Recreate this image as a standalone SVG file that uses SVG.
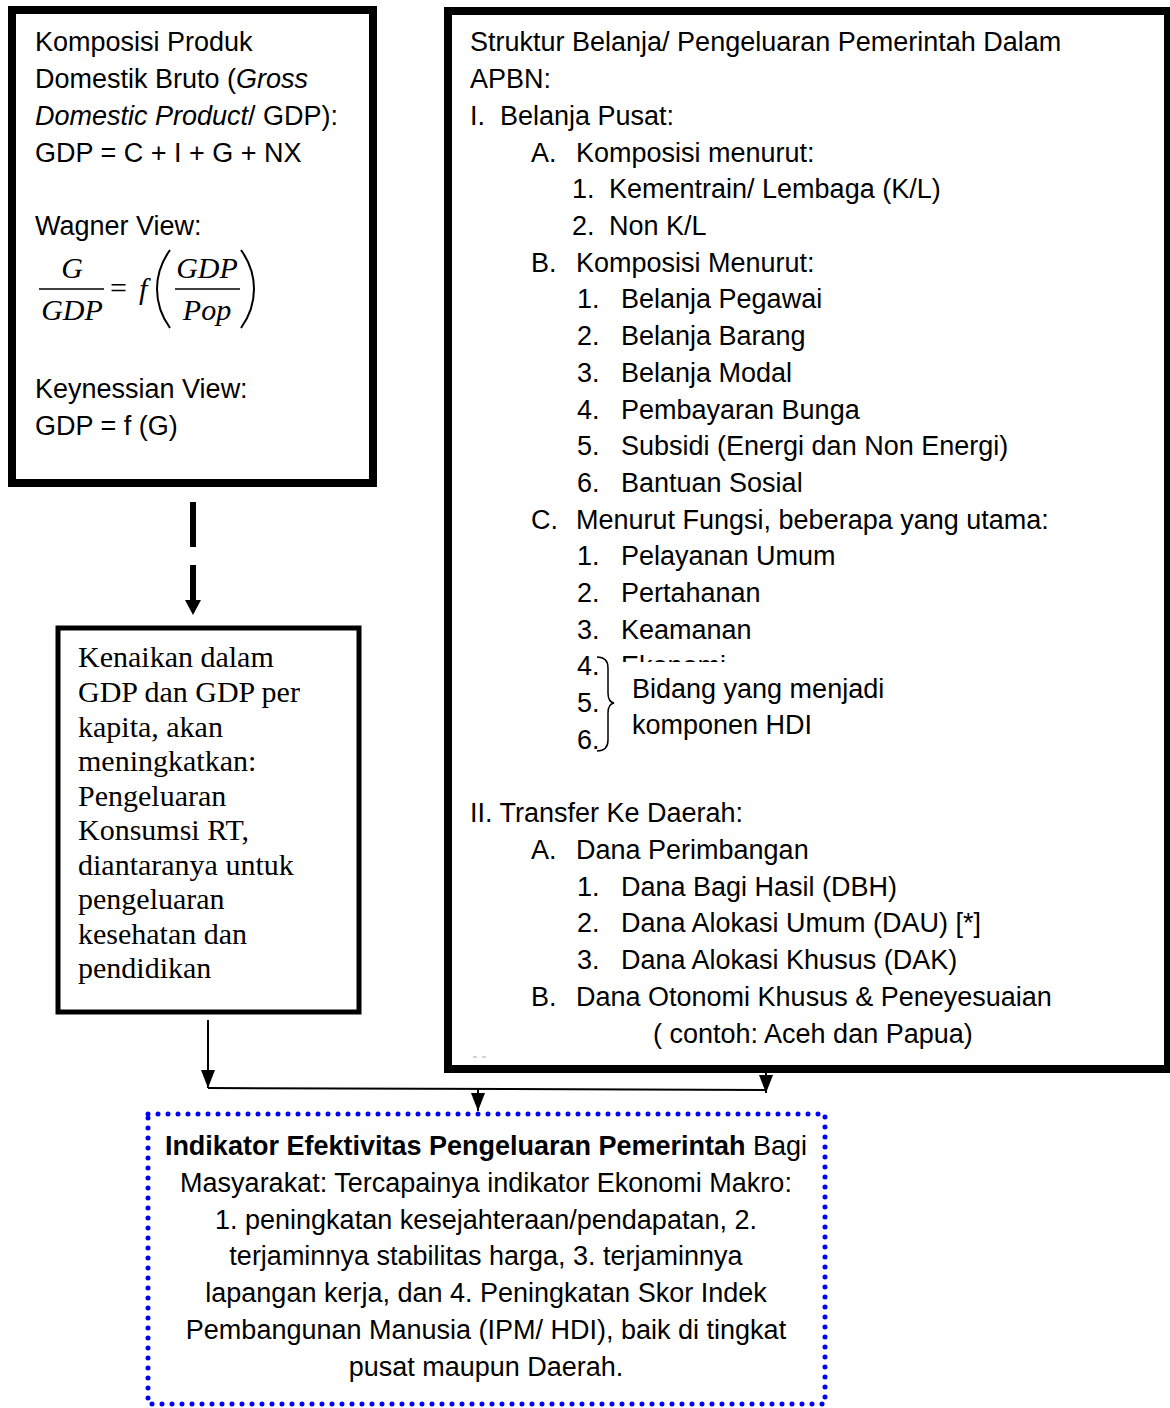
<svg xmlns="http://www.w3.org/2000/svg" width="1170" height="1408" viewBox="0 0 1170 1408">
<style>
.box{fill:#fff;stroke:#000}
.s{font-family:"Liberation Sans",Arial,sans-serif;font-size:27px;fill:#000}
.r{font-family:"Liberation Serif","Times New Roman",serif;font-size:30px;fill:#000}
.m{font-family:"Liberation Serif","Times New Roman",serif;font-size:30px;font-style:italic;fill:#000}
.c{text-anchor:middle}
.ln{stroke:#000;stroke-width:2;fill:none}
</style>
<defs>
<marker id="ah" markerWidth="18" markerHeight="14" refX="18" refY="7" orient="auto" markerUnits="userSpaceOnUse" viewBox="0 0 18 14">
<path d="M0,0 L18,7 L0,14 Z" fill="#000"/>
</marker>
<clipPath id="ekClip"><rect x="600" y="640" width="200" height="22"/></clipPath>
</defs>

<g id="node-gdp">
<rect class="box" x="12" y="10" width="361" height="473" stroke-width="8"/>
<text class="s" x="35" y="51">Komposisi Produk</text>
<text class="s" x="35" y="88">Domestik Bruto (<tspan font-style="italic">Gross</tspan></text>
<text class="s" x="35" y="125"><tspan font-style="italic">Domestic Product</tspan>/ GDP):</text>
<text class="s" x="35" y="162">GDP = C + I + G + NX</text>
<text class="s" x="35" y="235">Wagner View:</text>
<text class="m c" x="72" y="278">G</text>
<line x1="39" y1="289" x2="104" y2="289" stroke="#000" stroke-width="1.5"/>
<text class="m c" x="72" y="320">GDP</text>
<text class="r" x="110" y="298">=</text>
<text class="m" x="139" y="299">f</text>
<path d="M170,250 Q157,268 157,289 Q157,310 170,328" fill="none" stroke="#000" stroke-width="2"/>
<text class="m c" x="207" y="278">GDP</text>
<line x1="175" y1="289" x2="240" y2="289" stroke="#000" stroke-width="1.5"/>
<text class="m c" x="207" y="320">Pop</text>
<path d="M241,250 Q254,268 254,289 Q254,310 241,328" fill="none" stroke="#000" stroke-width="2"/>
<text class="s" x="35" y="398">Keynessian View:</text>
<text class="s" x="35" y="435">GDP = f (G)</text>
</g>

<g id="node-apbn">
<rect class="box" x="448" y="11" width="720" height="1058" stroke-width="8"/>
<text class="s" x="470" y="51">Struktur Belanja/ Pengeluaran Pemerintah Dalam</text>
<text class="s" x="470" y="88">APBN:</text>
<text class="s" x="470" y="125">I.</text><text class="s" x="500" y="125">Belanja Pusat:</text>
<text class="s" x="531" y="162">A.</text><text class="s" x="576" y="162">Komposisi menurut:</text>
<text class="s" x="572" y="198">1.</text><text class="s" x="609" y="198">Kementrain/ Lembaga (K/L)</text>
<text class="s" x="572" y="235">2.</text><text class="s" x="609" y="235">Non K/L</text>
<text class="s" x="531" y="272">B.</text><text class="s" x="576" y="272">Komposisi Menurut:</text>
<text class="s" x="577" y="308">1.</text><text class="s" x="621" y="308">Belanja Pegawai</text>
<text class="s" x="577" y="345">2.</text><text class="s" x="621" y="345">Belanja Barang</text>
<text class="s" x="577" y="382">3.</text><text class="s" x="621" y="382">Belanja Modal</text>
<text class="s" x="577" y="419">4.</text><text class="s" x="621" y="419">Pembayaran Bunga</text>
<text class="s" x="577" y="455">5.</text><text class="s" x="621" y="455">Subsidi (Energi dan Non Energi)</text>
<text class="s" x="577" y="492">6.</text><text class="s" x="621" y="492">Bantuan Sosial</text>
<text class="s" x="531" y="529">C.</text><text class="s" x="576" y="529">Menurut Fungsi, beberapa yang utama:</text>
<text class="s" x="577" y="565">1.</text><text class="s" x="621" y="565">Pelayanan Umum</text>
<text class="s" x="577" y="602">2.</text><text class="s" x="621" y="602">Pertahanan</text>
<text class="s" x="577" y="639">3.</text><text class="s" x="621" y="639">Keamanan</text>
<text class="s" x="577" y="675">4.</text>
<text class="s" x="621" y="675" clip-path="url(#ekClip)">Ekonomi</text>
<text class="s" x="577" y="712">5.</text>
<text class="s" x="577" y="749">6.</text>
<path d="M597,657 Q608,657 608,668 L608,693 Q608,702 614,703 Q608,704 608,713 L608,740 Q608,751 597,751" fill="none" stroke="#000" stroke-width="1.5"/>
<text class="s" x="632" y="698">Bidang yang menjadi</text>
<text class="s" x="632" y="734">komponen HDI</text>
<text class="s" x="470" y="822">II. Transfer Ke Daerah:</text>
<text class="s" x="531" y="859">A.</text><text class="s" x="576" y="859">Dana Perimbangan</text>
<text class="s" x="577" y="896">1.</text><text class="s" x="621" y="896">Dana Bagi Hasil (DBH)</text>
<text class="s" x="577" y="932">2.</text><text class="s" x="621" y="932">Dana Alokasi Umum (DAU) [*]</text>
<text class="s" x="577" y="969">3.</text><text class="s" x="621" y="969">Dana Alokasi Khusus (DAK)</text>
<text class="s" x="531" y="1006">B.</text><text class="s" x="576" y="1006">Dana Otonomi Khusus &amp; Peneyesuaian</text>
<text class="s" x="653" y="1043">( contoh: Aceh dan Papua)</text>
<line x1="473" y1="1057" x2="477" y2="1057" stroke="#aaa" stroke-width="1"/>
<line x1="482" y1="1057" x2="486" y2="1057" stroke="#aaa" stroke-width="1"/>
</g>

<g id="node-kenaikan">
<rect class="box" x="58" y="628" width="301" height="384" stroke-width="5"/>
<text class="r" x="78" y="667">Kenaikan dalam</text>
<text class="r" x="78" y="702">GDP dan GDP per</text>
<text class="r" x="78" y="737">kapita, akan</text>
<text class="r" x="78" y="771">meningkatkan:</text>
<text class="r" x="78" y="806">Pengeluaran</text>
<text class="r" x="78" y="840">Konsumsi RT,</text>
<text class="r" x="78" y="875">diantaranya untuk</text>
<text class="r" x="78" y="909">pengeluaran</text>
<text class="r" x="78" y="944">kesehatan dan</text>
<text class="r" x="78" y="978">pendidikan</text>
</g>

<g id="node-indikator">
<rect x="148" y="1114" width="677" height="290" fill="#fff" stroke="#0000ff" stroke-width="5" stroke-linecap="round" stroke-dasharray="0 10"/>
<text class="s c" x="486" y="1155"><tspan font-weight="bold">Indikator Efektivitas Pengeluaran Pemerintah</tspan> Bagi</text>
<text class="s c" x="486" y="1192">Masyarakat: Tercapainya indikator Ekonomi Makro:</text>
<text class="s c" x="486" y="1229">1. peningkatan kesejahteraan/pendapatan, 2.</text>
<text class="s c" x="486" y="1265">terjaminnya stabilitas harga, 3. terjaminnya</text>
<text class="s c" x="486" y="1302">lapangan kerja, dan  4. Peningkatan Skor Indek</text>
<text class="s c" x="486" y="1339">Pembangunan Manusia (IPM/ HDI), baik di tingkat</text>
<text class="s c" x="486" y="1376">pusat maupun Daerah.</text>
</g>

<g id="connectors">
<line x1="193" y1="502" x2="193" y2="547" stroke="#000" stroke-width="6"/>
<line x1="193" y1="565" x2="193" y2="602" stroke="#000" stroke-width="6"/>
<path d="M185,600 L201,600 L193,615 Z" fill="#000"/>
<line class="ln" x1="208" y1="1020" x2="208" y2="1088" marker-end="url(#ah)"/>
<line class="ln" x1="208" y1="1088" x2="766" y2="1090" stroke-width="3"/>
<line class="ln" x1="766" y1="1073" x2="766" y2="1093" marker-end="url(#ah)"/>
<line class="ln" x1="478" y1="1089" x2="478" y2="1111" marker-end="url(#ah)"/>
</g>
</svg>
